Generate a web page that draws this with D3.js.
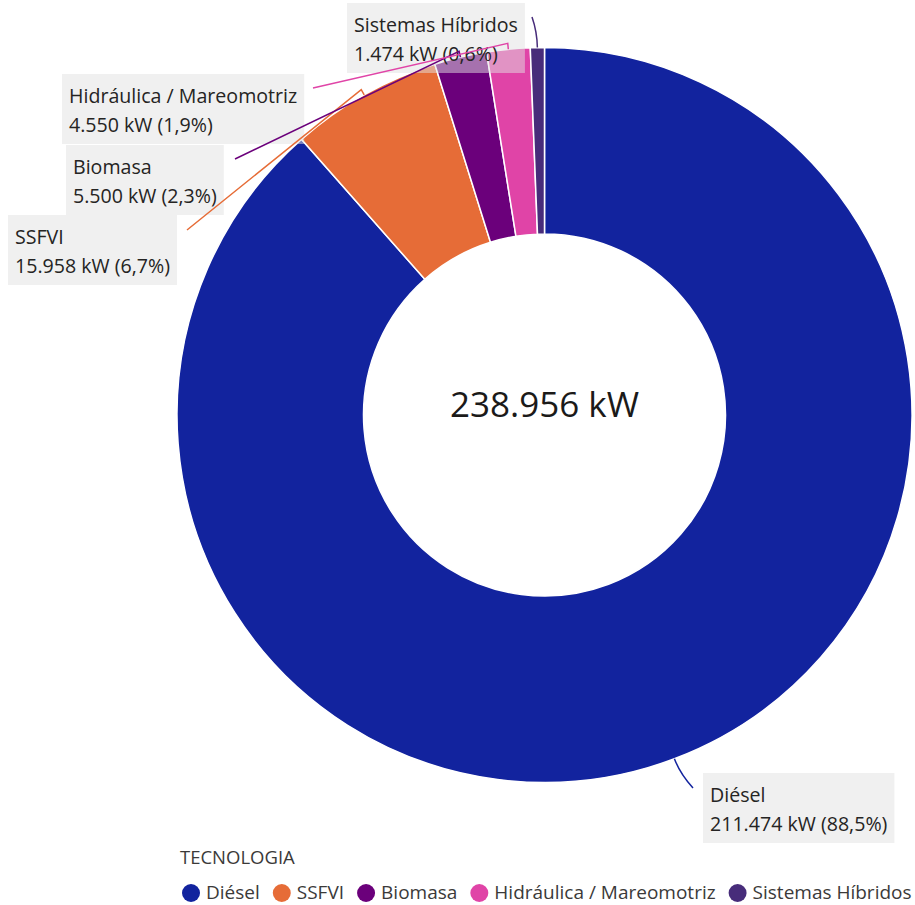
<!DOCTYPE html>
<html>
<head>
<meta charset="utf-8">
<script src="https://cdn.jsdelivr.net/npm/d3@7"></script>
<style>
  html, body { margin: 0; padding: 0; background: #ffffff; }
  svg { display: block; font-family: "Open Sans", "Noto Sans", sans-serif; }
</style>
</head>
<body>
<svg id="chart" width="915" height="905"></svg>
<script>
// Installed capacity by technology (kW)
const categories = ["Diésel", "SSFVI", "Biomasa", "Hidráulica / Mareomotriz", "Sistemas Híbridos"];
const values = [211474, 15958, 5500, 4550, 1474];
const colors = ["#12239E", "#E66C37", "#6B007B", "#E044A7", "#472C7A"];
const legendTitle = "TECNOLOGIA";

// Label placement: box top-left corner and leader-line end point
const labelBoxes = [
  { x: 703, y: 773, ex: 693, ey: 788, curve: true },
  { x: 8,   y: 215, ex: 187, ey: 230 },
  { x: 66,  y: 145, ex: 235, ey: 159 },
  { x: 62,  y: 74,  ex: 313, ey: 88 },
  { x: 347, y: 3,   ex: 532, ey: 17, curve: true }
];

const svg = d3.select("#chart");
const cx = 544.5, cy = 415, rOuter = 367.5, rInner = 181;

const total = d3.sum(values);
const fmtInt = d3.formatLocale({ decimal: ",", thousands: ".", grouping: [3], currency: ["", ""] });
const fmtKW = v => fmtInt.format(",.0f")(v) + " kW";
const fmtPct = v => fmtInt.format(".1f")(v * 100) + "%";

const data = categories.map((c, i) => ({ name: c, value: values[i], color: colors[i], layout: labelBoxes[i] }));

const pie = d3.pie().value(d => d.value).sort(null);
const arcs = pie(data);
const arc = d3.arc().innerRadius(rInner).outerRadius(rOuter);

const g = svg.append("g").attr("transform", `translate(${cx},${cy})`);
g.selectAll("path.slice")
  .data(arcs)
  .join("path")
  .attr("class", "slice")
  .attr("d", arc)
  .attr("fill", d => d.data.color)
  .attr("stroke", "#ffffff")
  .attr("stroke-width", 1.5);

// Centre total
svg.append("text")
  .attr("x", cx)
  .attr("y", 417)
  .attr("text-anchor", "middle")
  .attr("font-size", 35)
  .attr("fill", "#1b1a19")
  .text(fmtKW(total));

// Data labels
const labels = svg.append("g");
arcs.forEach(a => {
  const L = a.data.layout;
  const grp = labels.append("g");
  const rect = grp.append("rect").attr("fill", "rgb(225,225,225)").attr("fill-opacity", 0.5);
  const t1 = grp.append("text").attr("x", L.x + 7).attr("y", L.y + 29)
    .attr("font-size", 19.6).attr("fill", "#252423").text(a.data.name);
  const t2 = grp.append("text").attr("x", L.x + 7).attr("y", L.y + 58)
    .attr("font-size", 19.6).attr("fill", "#252423")
    .text(`${fmtKW(a.data.value)} (${fmtPct(a.data.value / total)})`);
  const w = Math.max(t1.node().getComputedTextLength(), t2.node().getComputedTextLength());
  rect.attr("x", L.x).attr("y", L.y).attr("width", w + 14).attr("height", 70);
});

// Leader lines from each slice's outer edge to its label
const lines = svg.append("g").attr("fill", "none").attr("stroke-width", 1.5);
arcs.forEach(a => {
  const L = a.data.layout;
  const mid = (a.startAngle + a.endAngle) / 2;
  const sx = cx + rOuter * Math.sin(mid), sy = cy - rOuter * Math.cos(mid);
  const ext = L.curve ? 16 : 6;
  const kx = cx + (rOuter + ext) * Math.sin(mid), ky = cy - (rOuter + ext) * Math.cos(mid);
  const p = d3.path();
  p.moveTo(sx, sy);
  if (L.curve) {
    p.quadraticCurveTo(kx, ky, L.ex, L.ey);
  } else {
    p.lineTo(kx, ky);
    p.lineTo(L.ex, L.ey);
  }
  lines.append("path").attr("d", p.toString()).attr("stroke", a.data.color);
});

// Legend
const legend = svg.append("g");
legend.append("text").attr("x", 180).attr("y", 864)
  .attr("font-size", 18.5).attr("fill", "#3b3a39").text(legendTitle);
let lx = 182;
data.forEach(d => {
  legend.append("circle").attr("cx", lx + 9).attr("cy", 893).attr("r", 9).attr("fill", d.color);
  const t = legend.append("text").attr("x", lx + 24).attr("y", 899)
    .attr("font-size", 19).attr("fill", "#3b3a39").text(d.name);
  lx += 24 + t.node().getComputedTextLength() + 13;
});
</script>
</body>
</html>
